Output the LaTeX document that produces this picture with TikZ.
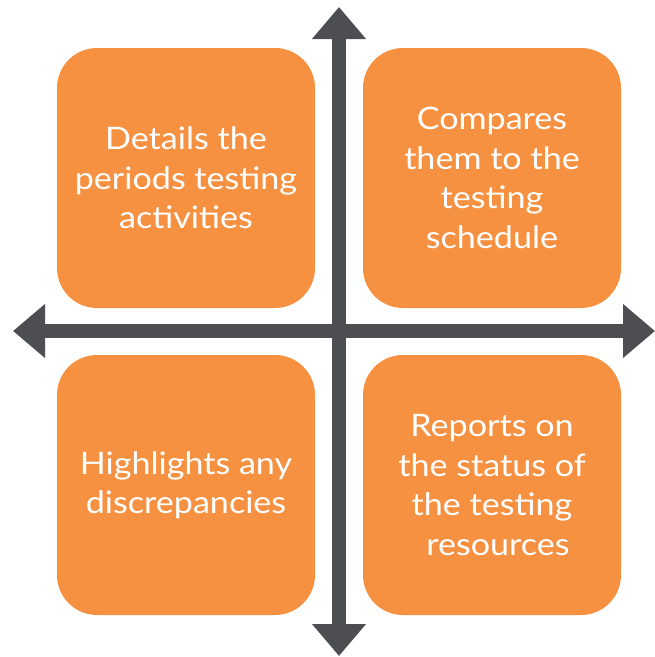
\documentclass[tikz,border=0pt]{standalone}
\usepackage{fontspec}
\setmainfont[FakeStretch=1.1]{Lato}
\usetikzlibrary{arrows.meta}
\definecolor{boxorange}{RGB}{246,145,66}
\definecolor{axisgray}{RGB}{77,78,82}
\tikzset{
  quad/.style={draw=none, fill=boxorange, rounded corners=40pt, minimum width=258pt, minimum height=260pt, inner sep=0pt, text=white, align=center, font=\fontsize{31}{39.5}\selectfont},
  axisline/.style={draw=axisgray, line width=14pt, {Triangle[width=52pt,length=32pt]}-{Triangle[width=52pt,length=32pt]}}
}
\begin{document}
\begin{tikzpicture}[x=1pt,y=-1pt]
\useasboundingbox (0,0) rectangle (655,657);
\node[quad] (tl) at (186,178) {Details the\\periods testing\\activities};
\node[quad] (tr) at (492,178) {Compares\\them to the\\testing\\schedule};
\node[quad] (bl) at (186,485) {Highlights any\\discrepancies};
\node[quad] (br) at (492,485) {Reports on\\the status of\\the testing\\\hspace*{12pt}resources};
\coordinate (top) at (339,7);
\coordinate (bottom) at (339,656);
\coordinate (left) at (13,331);
\coordinate (right) at (655,331);
\draw[axisline] (bottom) -- (top);
\draw[axisline] (left) -- (right);
\end{tikzpicture}
\end{document}
